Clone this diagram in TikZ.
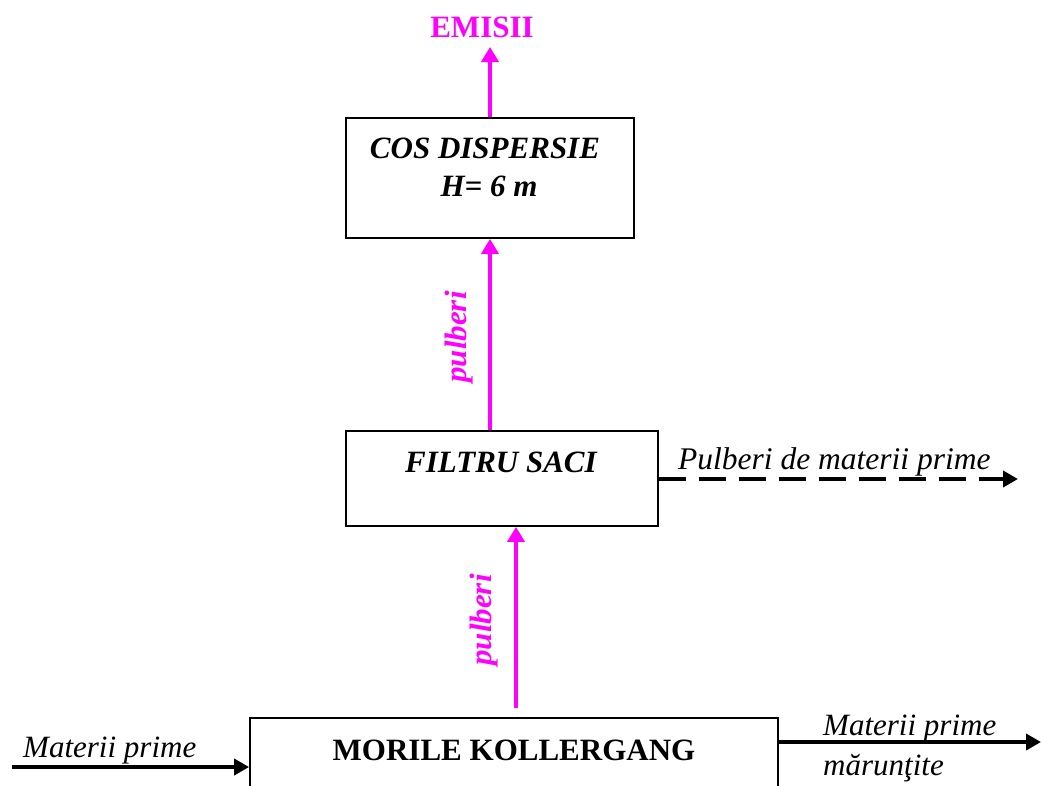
\documentclass[tikz,border=0pt]{standalone}
\usepackage{fontspec}
\setmainfont{Liberation Serif}
\usetikzlibrary{arrows.meta}
\definecolor{mag}{RGB}{255,0,255}
\tikzset{
  boxnode/.style={draw=black,line width=1.8pt,minimum width=#1,inner sep=0pt},
  big/.style={font=\fontsize{31}{36}\selectfont},
  txt/.style={big,inner sep=0pt},
  magarrow/.style={draw=mag,line width=4pt,-{Triangle[length=15pt,width=17pt]}},
  blkarrow/.style={draw=black,line width=4.5pt,-{Triangle[length=15pt,width=16pt]}},
  dasharrow/.style={draw=black,line width=4.5pt,dash pattern=on 27pt off 13pt,-{Triangle[length=15pt,width=16pt]}},
  maglabel/.style={txt,text=mag,font=\fontsize{31}{36}\selectfont\bfseries\itshape,rotate=90}
}
\begin{document}
\begin{tikzpicture}[x=1pt,y=-1pt]
\useasboundingbox (0,0) rectangle (1041,785);
\clip (0,0) rectangle (1041,785);
% boxes
\node[boxnode=288pt,minimum height=120pt] (cos) at (490,178) {};
\node[boxnode=312pt,minimum height=95pt] (filtru) at (502,478.5) {};
\node[boxnode=528pt,minimum height=120pt] (morile) at (514,778) {};
% box texts
\node[txt,font=\fontsize{31}{36}\selectfont\bfseries\itshape,anchor=base] (costxt) at (485,158) {COS DISPERSIE};
\node[txt,font=\fontsize{31}{36}\selectfont\bfseries\itshape,anchor=base] (htxt) at (489,196) {H= 6 m};
\node[txt,font=\fontsize{31}{36}\selectfont\bfseries\itshape,anchor=base] (filtxt) at (501,472) {FILTRU SACI};
\node[txt,font=\fontsize{31}{36}\selectfont\bfseries,anchor=base] (mortxt) at (514,760) {MORILE KOLLERGANG};
% emisii
\node[txt,font=\fontsize{31}{36}\selectfont\bfseries,text=mag,anchor=base] (emisii) at (482,37) {EMISII};
\coordinate (emtip) at (490,47);
\draw[magarrow] (cos.north) -- (emtip);
% cos <- filtru
\draw[magarrow] (cos.south |- filtru.north) -- (cos.south);
\node[maglabel] (pul1) at (459,337) {pulberi};
% filtru <- morile
\coordinate (mtop) at (516,708);
\draw[magarrow] (mtop) -- (mtop |- filtru.south);
\node[maglabel] (pul2) at (484,620) {pulberi};
% dashed output
\coordinate (dashend) at (1018,479);
\draw[dasharrow] (filtru.east |- dashend) -- (dashend);
\node[txt,font=\fontsize{31.5}{36}\selectfont\itshape,anchor=base west] (pdm) at (678,469) {Pulberi de materii prime};
% input
\coordinate (lin) at (12,767);
\draw[blkarrow] (lin) -- (morile.west |- lin);
\node[txt,font=\fontsize{31}{36}\selectfont\itshape,anchor=base west] (mp1) at (23,757) {Materii prime};
% output
\coordinate (rout) at (1041,742);
\draw[blkarrow] (morile.east |- rout) -- (rout);
\node[txt,font=\fontsize{31}{36}\selectfont\itshape,anchor=base west] (mp2) at (823,735) {Materii prime};
\node[txt,font=\fontsize{31}{36}\selectfont\itshape,anchor=base west] (mar) at (823,775) {mărunţite};
\end{tikzpicture}
\end{document}
